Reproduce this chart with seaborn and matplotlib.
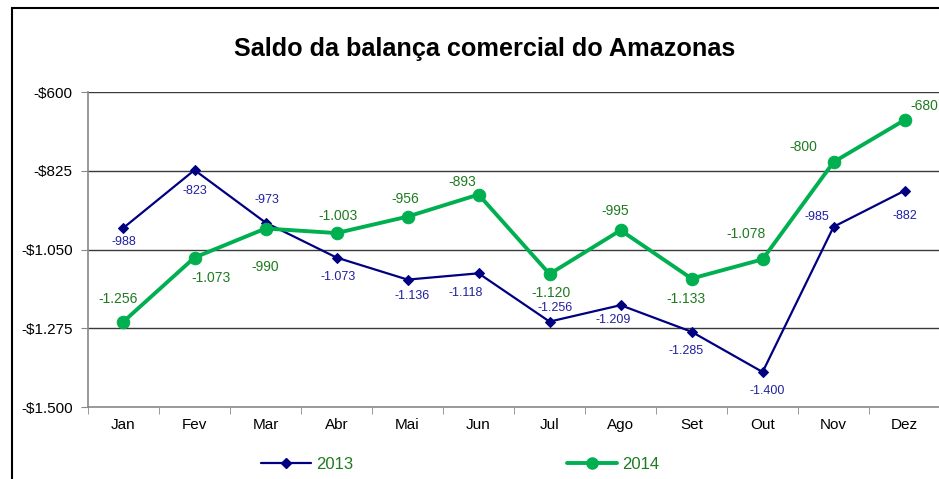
import numpy as np
import pandas as pd
import matplotlib
matplotlib.use("Agg")
import matplotlib.pyplot as plt
from matplotlib.ticker import FuncFormatter, FixedLocator
from matplotlib.patches import Rectangle
from matplotlib.lines import Line2D
import seaborn as sns

# Data
months = ['Jan', 'Fev', 'Mar', 'Abr', 'Mai', 'Jun', 'Jul', 'Ago', 'Set', 'Out', 'Nov', 'Dez']
saldo_2013 = [-988, -823, -973, -1073, -1136, -1118, -1256, -1209, -1285, -1400, -985, -882]
saldo_2014 = [-1256, -1073, -990, -1003, -956, -893, -1120, -995, -1133, -1078, -800, -680]
y_ticks = [-1500, -1275, -1050, -825, -600]

# label offsets in points (dx, dy)
off_2013 = [(0, -10), (0, -15), (1, 16), (1, -14), (3, -12), (-9, -14),
            (4, 10), (-5, -11), (-4, -14), (3, -14), (-12, 7), (0, -18)]
off_2014 = [(-4, 16), (12, -15), (0, -28), (1, 12), (-2, 13), (-12, 9),
            (1, -14), (-4, 14), (-4, -15), (-12, 18), (-22, 11), (14, 10)]

navy = '#000080'
green = '#00B050'
navy_txt = '#2020A0'
green_txt = '#1E7B1E'

df = pd.DataFrame({
    'Mes': months * 2,
    'Saldo': saldo_2013 + saldo_2014,
    'Ano': ['2013'] * 12 + ['2014'] * 12,
})

sns.set_style('white')
plt.rcParams['font.family'] = ['Liberation Sans', 'DejaVu Sans']
plt.rcParams['text.color'] = 'black'
plt.rcParams['xtick.color'] = 'black'
plt.rcParams['ytick.color'] = 'black'

fig = plt.figure(figsize=(9.39, 4.79), dpi=100)
ax = fig.add_axes([0.0937, 0.1503, 0.9075, 0.6576])

sns.lineplot(data=df[df['Ano'] == '2013'], x='Mes', y='Saldo', sort=False, ax=ax,
             color=navy, linewidth=1.6, marker='D', markersize=5.5,
             markeredgecolor=navy, markerfacecolor=navy)
sns.lineplot(data=df[df['Ano'] == '2014'], x='Mes', y='Saldo', sort=False, ax=ax,
             color=green, linewidth=2.8, marker='o', markersize=9,
             markeredgecolor=green, markerfacecolor=green)

for i, v in enumerate(saldo_2013):
    ax.annotate(f"{v:,.0f}".replace(',', '.'), (i, v), xytext=off_2013[i],
                textcoords='offset points', ha='center', va='center',
                fontsize=9, color=navy_txt, annotation_clip=False)
for i, v in enumerate(saldo_2014):
    ax.annotate(f"{v:,.0f}".replace(',', '.'), (i, v), xytext=off_2014[i],
                textcoords='offset points', ha='center', va='center',
                fontsize=10, color=green_txt, annotation_clip=False)

ax.set_xlim(-0.5, 11.5)
ax.set_ylim(-1500, -600)
ax.set_yticks(y_ticks)
ax.yaxis.set_major_formatter(FuncFormatter(lambda v, p: f"-${abs(v):,.0f}".replace(',', '.')))
for yv in y_ticks[1:]:
    ax.axhline(yv, color='#3a3a3a', linewidth=1, zorder=0)

ax.set_xticks(range(len(months)))
ax.set_xticklabels(months)
ax.xaxis.set_minor_locator(FixedLocator(np.arange(-0.5, 12, 1)))
ax.tick_params(axis='x', which='major', length=0, labelsize=11, pad=8, labelcolor='black')
ax.tick_params(axis='x', which='minor', length=5, color='#888888', direction='out')
ax.tick_params(axis='y', length=5, color='#888888', direction='out', labelsize=11, pad=6,
               labelcolor='black')
ax.tick_params(axis='both', bottom=True, left=True, which='both')

ax.set_xlabel('')
ax.set_ylabel('')
for s in ['top', 'right']:
    ax.spines[s].set_visible(False)
for s in ['left', 'bottom']:
    ax.spines[s].set_color('#888888')
    ax.spines[s].set_linewidth(1.2)

fig.text(0.516, 0.898, 'Saldo da balança comercial do Amazonas', ha='center', va='center',
         fontsize=18.2, fontweight='bold', color='black')

handles = [Line2D([], [], color=navy, linewidth=1.6, marker='D', markersize=5),
           Line2D([], [], color=green, linewidth=2.8, marker='o', markersize=8)]
leg = fig.legend(handles, ['2013', '2014'], loc='center', bbox_to_anchor=(0.49, 0.03),
                 ncol=2, frameon=False, fontsize=12, handlelength=3.0,
                 columnspacing=12.8, handletextpad=0.3)
for t in leg.get_texts():
    t.set_color(green_txt)

fig.patches.append(Rectangle((12 / 939, -0.1), 1.2, 1.1 - 8 / 479, transform=fig.transFigure,
                             fill=False, edgecolor='black', linewidth=1.5))

fig.savefig('out.png', dpi=100)
